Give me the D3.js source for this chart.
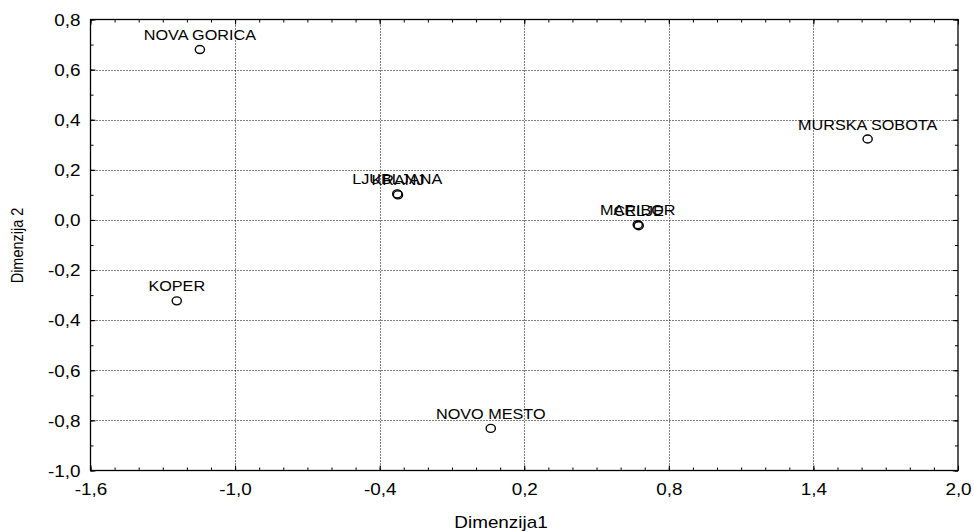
<!DOCTYPE html>
<html>
<head>
<meta charset="utf-8">
<script src="https://cdn.jsdelivr.net/npm/d3@7"></script>
<style>
  html, body { margin: 0; padding: 0; background: #fff; }
  svg { display: block; font-family: "Liberation Sans", Arial, sans-serif; }
</style>
</head>
<body>
<svg id="chart" width="974" height="531"></svg>
<script>
// ---- data ----
const cities = ["NOVA GORICA", "KOPER", "LJUBLJANA", "KRANJ", "NOVO MESTO", "MARIBOR", "CELJE", "MURSKA SOBOTA"];
const dim1   = [-1.146, -1.242, -0.327, -0.324, 0.061, 0.671, 0.675, 1.625];
const dim2   = [0.680, -0.323, 0.104, 0.100, -0.832, -0.019, -0.023, 0.323];
const xTickValues = [-1.6, -1.0, -0.4, 0.2, 0.8, 1.4, 2.0];
const yTickValues = [0.8, 0.6, 0.4, 0.2, 0.0, -0.2, -0.4, -0.6, -0.8, -1.0];
const xTitle = "Dimenzija1";
const yTitle = "Dimenzija 2";

// ---- layout ----
const L = 90.5, R = 958, T = 19.5, B = 470.5;
const SX = 1.18; // horizontal text stretch of the reference
const svg = d3.select("#chart");
const x = d3.scaleLinear().domain([-1.6, 2.0]).range([L, R]);
const y = d3.scaleLinear().domain([-1.0, 0.8]).range([B, T]);
const fmt = d => d3.format(".1f")(d).replace(".", ",").replace("−", "-");

// minor tick values (every 0.1)
const xMinor = d3.range(-16, 21).map(v => v / 10);
const yMinor = d3.range(-10, 9).map(v => v / 10);

// grid lines (dotted)
const grid = svg.append("g").attr("stroke", "#000").attr("stroke-width", 1)
  .attr("stroke-dasharray", "1,2");
grid.selectAll("line.vx").data(xTickValues.slice(1, -1)).join("line")
  .attr("x1", d => Math.round(x(d)) + 0.5).attr("x2", d => Math.round(x(d)) + 0.5)
  .attr("y1", T).attr("y2", B);
grid.selectAll("line.hy").data(yTickValues.slice(1, -1)).join("line")
  .attr("y1", d => Math.round(y(d)) + 0.5).attr("y2", d => Math.round(y(d)) + 0.5)
  .attr("x1", L).attr("x2", R);

// axes with inward ticks on all four sides
function styleAxis(g) {
  g.select(".domain").remove();
  g.selectAll("line").attr("stroke", "#000").attr("stroke-width", 1);
}
// minor ticks
svg.append("g").attr("transform", `translate(0,${B})`)
  .call(d3.axisBottom(x).tickValues(xMinor).tickSize(-3).tickFormat("")).call(styleAxis);
svg.append("g").attr("transform", `translate(0,${T})`)
  .call(d3.axisTop(x).tickValues(xMinor).tickSize(-3).tickFormat("")).call(styleAxis);
svg.append("g").attr("transform", `translate(${L},0)`)
  .call(d3.axisLeft(y).tickValues(yMinor).tickSize(-3).tickFormat("")).call(styleAxis);
svg.append("g").attr("transform", `translate(${R},0)`)
  .call(d3.axisRight(y).tickValues(yMinor).tickSize(-3).tickFormat("")).call(styleAxis);

// major ticks + labels
const xAxis = svg.append("g").attr("transform", `translate(0,${B})`)
  .call(d3.axisBottom(x).tickValues(xTickValues).tickSize(-5).tickPadding(0).tickFormat(fmt))
  .call(styleAxis);
xAxis.selectAll("text")
  .attr("fill", "#000").attr("font-size", 16).attr("font-family", null)
  .attr("y", 25).attr("dy", null)
  .attr("transform", `scale(${SX},1)`);
const yAxis = svg.append("g").attr("transform", `translate(${L},0)`)
  .call(d3.axisLeft(y).tickValues(yTickValues).tickSize(-5).tickPadding(0).tickFormat(fmt))
  .call(styleAxis);
yAxis.selectAll("text")
  .attr("fill", "#000").attr("font-size", 16).attr("font-family", null)
  .attr("x", -10 / SX).attr("dy", "0.36em")
  .attr("transform", `scale(${SX},1)`);
svg.append("g").attr("transform", `translate(0,${T})`)
  .call(d3.axisTop(x).tickValues(xTickValues).tickSize(-5).tickFormat("")).call(styleAxis);
svg.append("g").attr("transform", `translate(${R},0)`)
  .call(d3.axisRight(y).tickValues(yTickValues).tickSize(-5).tickFormat("")).call(styleAxis);

// frame
svg.append("rect").attr("x", L).attr("y", T).attr("width", R - L).attr("height", B - T)
  .attr("fill", "none").attr("stroke", "#000").attr("stroke-width", 1.3);

// axis titles
svg.append("g").attr("transform", `translate(501,528) scale(${SX},1)`)
  .append("text").attr("text-anchor", "middle").attr("font-size", 16).attr("fill", "#000").text(xTitle);
svg.append("g").attr("transform", `translate(23,245.5) rotate(-90) scale(1,1.15)`)
  .append("text").attr("text-anchor", "middle").attr("font-size", 14.5).attr("fill", "#000").text(yTitle);

// points
const pts = cities.map((c, i) => ({ name: c, d1: dim1[i], d2: dim2[i] }));
svg.append("g").selectAll("ellipse").data(pts).join("ellipse")
  .attr("cx", d => x(d.d1)).attr("cy", d => y(d.d2))
  .attr("rx", 4.6).attr("ry", 4)
  .attr("fill", "none").attr("stroke", "#000").attr("stroke-width", 1.4);

// labels
svg.append("g").selectAll("g").data(pts).join("g")
  .attr("transform", d => `translate(${x(d.d1)},${y(d.d2) - 9.5}) scale(1.08,1)`)
  .append("text").attr("text-anchor", "middle").attr("font-size", 15).attr("fill", "#000")
  .text(d => d.name);
</script>
</body>
</html>
